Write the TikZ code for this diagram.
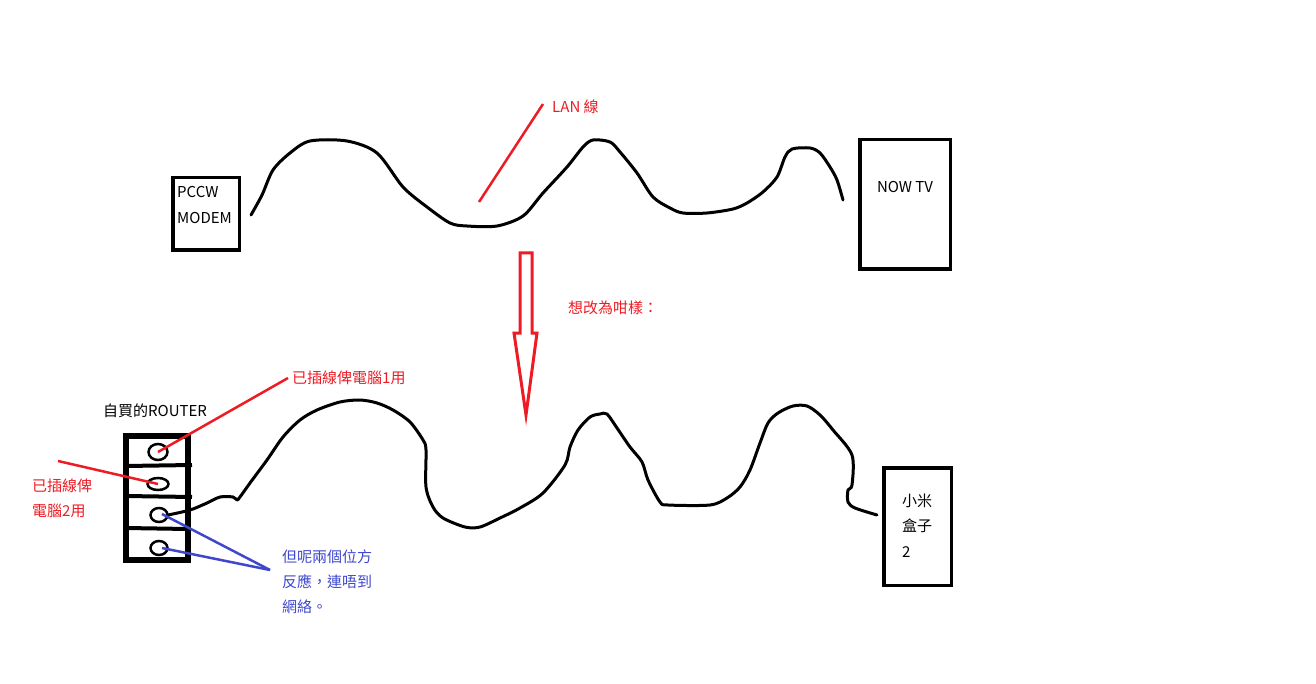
\documentclass[tikz,border=0pt]{standalone}
\usepackage{fontspec}
\setmainfont{Noto Sans CJK TC}
\usetikzlibrary{shapes.geometric}
\definecolor{paintred}{HTML}{ED1C24}
\definecolor{paintblue}{HTML}{3F48CC}
\tikzset{
  cable/.style={line width=3pt, line join=round, line cap=round},
  device/.style={draw, line width=3.5pt, inner sep=0pt, anchor=north west},
  port/.style={draw, ellipse, line width=2.5pt, inner sep=0pt},
  pointer/.style={line width=2.5pt, paintred},
  bluepointer/.style={line width=2.5pt, paintblue},
  txt/.style={inner sep=0pt, anchor=base west, font=\fontsize{15}{18}\selectfont},
}
\begin{document}
\begin{tikzpicture}[x=1pt, y=-1pt]
\useasboundingbox (0,0) rectangle (1316,684);
% before
\node[device, minimum width=66.5pt, minimum height=72.5pt] (modem) at (171,176) {};
\node[txt] (modemA) at (177,198) {PCCW};
\node[txt] (modemB) at (177,224) {MODEM};
\node[device, minimum width=90.5pt, minimum height=129.5pt] (nowtv) at (858,138) {};
\node[txt, anchor=base] (nowtvT) at (905,193) {NOW TV};
\draw[cable] plot[smooth, tension=0.5] coordinates {
  (251,215) (262,195) (273,170) (290,153) (310,141) (347,141) (377,153)
  (403,187) (427,207) (450,223) (467,226) (497,226) (523,216) (543,193)
  (567,167) (583,147) (593,140) (610,142) (620,152) (637,173) (653,197)
  (670,208) (683,213) (707,213) (733,209) (747,203) (763,192) (777,177)
  (785,157) (792,149) (810,148) (820,153) (830,167) (837,180) (843,200)};
\node[txt, text=paintred] (lan) at (552,113) {LAN 線};
\coordinate (lanEnd) at (479,202);
\draw[pointer] (lanEnd) -- ([xshift=-9pt, yshift=9pt]lan.base west);
% change arrow
\draw[paintred, line width=3pt, line join=miter]
  (520,253) -- (532,253) -- (532,333) -- (537,333) -- (526,415)
  -- (514,333) -- (520,333) -- cycle;
\node[txt, text=paintred] (change) at (568,314) {想改為咁樣：};
% after
\draw[line width=5.5pt] (126,436) rectangle (188,560);
\node[inner sep=0pt, minimum width=62pt, minimum height=124pt] (router) at (157,498) {};
\draw[line width=4pt] (router.west |- 0,466) -- (192,465);
\draw[line width=4pt] (router.west |- 0,496) -- (192,497);
\draw[line width=4pt] (router.west |- 0,528) -- (router.east |- 0,529);
\node[port, minimum width=19pt, minimum height=16pt] (p1) at (158,452) {};
\node[port, minimum width=21pt, minimum height=12pt] (p2) at (158,484) {};
\node[port, minimum width=17pt, minimum height=14pt] (p3) at (159,515) {};
\node[port, minimum width=17pt, minimum height=14pt] (p4) at (159,548) {};
\node[txt] (routerT) at (103,416) {自買的ROUTER};
\draw[cable] plot[smooth, tension=0.5] coordinates {
  (168,515) (190,510) (207,503) (220,497) (233,497) (237,500) (240,497)
  (250,483) (267,460) (283,437) (300,420) (317,410) (340,402) (360,400)
  (377,403) (393,410) (410,422) (423,440) (426,450) (426,487) (433,507)
  (443,518) (465,527) (480,527) (500,518) (520,508) (543,493) (565,465)
  (570,447) (578,430) (590,417) (600,414) (607,414) (617,428) (630,447)
  (642,462) (648,480) (660,502) (668,505) (710,505) (727,498) (740,487)
  (750,470) (760,443) (768,423) (778,413) (793,406) (807,406) (820,415)
  (833,430) (852,455) (852,485) (848,490) (848,502) (855,508) (877,515)};
\node[device, minimum width=67.5pt, minimum height=117.5pt] (xiaomi) at (882,466) {};
\node[txt] (xiaomiA) at (902,506) {小米};
\node[txt] (xiaomiB) at (902,531) {盒子};
\node[txt] (xiaomiC) at (902,557) {2};
\node[txt, text=paintred] (pc1) at (292,383) {已插線俾電腦1用};
\draw[pointer] (p1.center) -- ([xshift=-4pt, yshift=5pt]pc1.base west);
\node[txt, text=paintred] (pc2a) at (32,491) {已插線俾};
\node[txt, text=paintred] (pc2b) at (32,516) {電腦2用};
\coordinate (pc2End) at (58,461);
\draw[pointer] (pc2End) -- (p2.center);
\node[txt, text=paintblue] (noteA) at (282,562) {但呢兩個位方};
\node[txt, text=paintblue] (noteB) at (282,587) {反應，連唔到};
\node[txt, text=paintblue] (noteC) at (282,612) {網絡。};
\coordinate (noteTip) at (270,570);
\draw[bluepointer] ([shift={(3pt,1pt)}]p3.center) -- (noteTip);
\draw[bluepointer] ([shift={(3pt,0pt)}]p4.center) -- (noteTip);
\end{tikzpicture}
\end{document}
